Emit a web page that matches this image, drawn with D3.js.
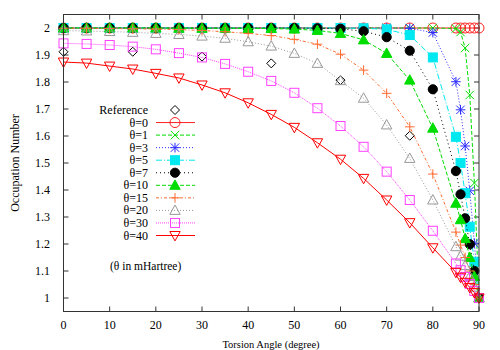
<!DOCTYPE html>
<html>
<head>
<meta charset="utf-8">
<script src="https://cdn.jsdelivr.net/npm/d3@7"></script>
<style>
  body { margin: 0; background: #fff; }
  svg { display: block; font-family: "Liberation Serif", "DejaVu Serif", serif; }
</style>
</head>
<body>
<svg id="chart" width="500" height="350"></svg>
<script>
// torsion angles (degree)
var angles = [0, 5, 10, 15, 20, 25, 30, 35, 40, 45, 50, 55, 60, 65, 70, 75, 80, 85, 86, 87, 88, 89, 90];
var refAngles = [0, 15, 30, 45, 60, 75, 90];
var refValues = [1.912, 1.912, 1.894, 1.869, 1.807, 1.601, 1.0];

var theta0  = [2, 2, 2, 2, 2, 2, 2, 2, 2, 2, 2, 2, 2, 2, 2, 2, 2, 2, 2, 2, 2, 2, 2];
var theta1  = [2, 2, 2, 2, 2, 2, 2, 2, 2, 2, 2, 2, 2, 2, 2, 2, 2, 1.998, 1.985, 1.926, 1.752, 1.426, 1.0];
var theta3  = [2, 2, 2, 2, 2, 2, 2, 2, 2, 2, 2, 2, 2, 2, 2, 1.999, 1.983, 1.801, 1.697, 1.563, 1.397, 1.203, 1.0];
var theta5  = [2, 2, 2, 2, 2, 2, 2, 2, 2, 2, 2, 2, 2, 1.999, 1.995, 1.974, 1.891, 1.597, 1.500, 1.388, 1.264, 1.134, 1.0];
var theta7  = [2, 2, 2, 2, 2, 2, 2, 2, 2, 2, 2, 1.999, 1.997, 1.988, 1.966, 1.916, 1.773, 1.470, 1.384, 1.295, 1.199, 1.100, 1.0];
var theta10 = [2, 2, 2, 2, 2, 1.999, 1.999, 1.999, 1.998, 1.998, 1.996, 1.991, 1.980, 1.956, 1.906, 1.807, 1.629, 1.351, 1.290, 1.220, 1.150, 1.080, 1.0];
var theta15 = [1.999, 1.999, 1.998, 1.997, 1.996, 1.994, 1.991, 1.986, 1.980, 1.972, 1.958, 1.940, 1.903, 1.844, 1.758, 1.634, 1.459, 1.244, 1.196, 1.150, 1.100, 1.050, 1.0];
var theta20 = [1.990, 1.989, 1.987, 1.984, 1.980, 1.976, 1.970, 1.962, 1.949, 1.933, 1.906, 1.869, 1.805, 1.740, 1.641, 1.517, 1.363, 1.190, 1.155, 1.120, 1.080, 1.040, 1.0];
var theta30 = [1.943, 1.941, 1.937, 1.931, 1.921, 1.907, 1.891, 1.867, 1.838, 1.804, 1.760, 1.703, 1.637, 1.560, 1.468, 1.363, 1.249, 1.128, 1.103, 1.078, 1.052, 1.026, 1.0];
var theta40 = [1.874, 1.870, 1.859, 1.848, 1.832, 1.815, 1.789, 1.760, 1.723, 1.680, 1.632, 1.575, 1.514, 1.443, 1.363, 1.279, 1.186, 1.095, 1.077, 1.058, 1.039, 1.020, 1.0];

var xTicks = [0, 10, 20, 30, 40, 50, 60, 70, 80, 90];
var yTicks = [1, 1.1, 1.2, 1.3, 1.4, 1.5, 1.6, 1.7, 1.8, 1.9, 2];

var series = [
    {name: "θ=0",  values: theta0,  color: "#ff2020", dash: null,        mark: "circle"},
    {name: "θ=1",  values: theta1,  color: "#00dd00", dash: "4,2",       mark: "cross"},
    {name: "θ=3",  values: theta3,  color: "#2a2aff", dash: "1,2",       mark: "star"},
    {name: "θ=5",  values: theta5,  color: "#00e8f0", dash: "6,2,1,2",   mark: "fsquare"},
    {name: "θ=7",  values: theta7,  color: "#000000", dash: "1,3",       mark: "fcircle"},
    {name: "θ=10", values: theta10, color: "#00dd00", dash: "4,2",       mark: "ftri"},
    {name: "θ=15", values: theta15, color: "#ff6a30", dash: "3,2,1,2",   mark: "plus"},
    {name: "θ=20", values: theta20, color: "#999999", dash: "1,2",       mark: "tri"},
    {name: "θ=30", values: theta30, color: "#ff40ff", dash: "1,1",       mark: "square"},
    {name: "θ=40", values: theta40, color: "#ff0000", dash: null,        mark: "dtri"}
];

var svg = d3.select("#chart"),
    padL = 63.5, padR = 479, padT = 14.5, padB = 311.5;

var x = d3.scaleLinear().domain([0, 90]).range([padL, padR]);
var y = d3.scaleLinear().domain([0.95, 2.05]).range([padB, padT]);

// Draw one point marker in gnuplot style.
function marker(g, type, cx, cy, color) {
    var p;
    if (type == "circle") {
        g.append("circle").attr("cx", cx).attr("cy", cy).attr("r", 5)
            .attr("fill", "none").attr("stroke", color);
    } else if (type == "fcircle") {
        g.append("circle").attr("cx", cx).attr("cy", cy).attr("r", 4.6)
            .attr("fill", color).attr("stroke", color);
    } else if (type == "square" || type == "fsquare") {
        g.append("rect").attr("x", cx - 4.5).attr("y", cy - 4.5).attr("width", 9).attr("height", 9)
            .attr("fill", type == "fsquare" ? color : "none").attr("stroke", color);
    } else if (type == "tri" || type == "ftri") {
        p = "M" + (cx - 5.2) + "," + (cy + 4) + "L" + (cx + 5.2) + "," + (cy + 4) + "L" + cx + "," + (cy - 5.4) + "Z";
        g.append("path").attr("d", p).attr("fill", type == "ftri" ? color : "none").attr("stroke", color);
    } else if (type == "dtri") {
        p = "M" + (cx - 5.2) + "," + (cy - 4) + "L" + (cx + 5.2) + "," + (cy - 4) + "L" + cx + "," + (cy + 5.4) + "Z";
        g.append("path").attr("d", p).attr("fill", "none").attr("stroke", color);
    } else if (type == "diamond") {
        p = "M" + cx + "," + (cy - 4.5) + "L" + (cx + 4.5) + "," + cy + "L" + cx + "," + (cy + 4.5) + "L" + (cx - 4.5) + "," + cy + "Z";
        g.append("path").attr("d", p).attr("fill", "none").attr("stroke", color);
    } else {
        p = "";
        if (type == "plus" || type == "star")
            p += "M" + (cx - 4.8) + "," + cy + "H" + (cx + 4.8) + "M" + cx + "," + (cy - 4.8) + "V" + (cy + 4.8);
        if (type == "cross" || type == "star")
            p += "M" + (cx - 4.2) + "," + (cy - 4.2) + "L" + (cx + 4.2) + "," + (cy + 4.2) +
                 "M" + (cx - 4.2) + "," + (cy + 4.2) + "L" + (cx + 4.2) + "," + (cy - 4.2);
        g.append("path").attr("d", p).attr("fill", "none").attr("stroke", color);
    }
}

// frame ticks (inward, mirrored)
var frame = svg.append("g").attr("stroke", "#333").attr("stroke-width", 1);
xTicks.forEach(function(t) {
    frame.append("line").attr("x1", x(t)).attr("x2", x(t)).attr("y1", padB).attr("y2", padB - 5);
    frame.append("line").attr("x1", x(t)).attr("x2", x(t)).attr("y1", padT).attr("y2", padT + 5);
});
yTicks.forEach(function(t) {
    frame.append("line").attr("x1", padL).attr("x2", padL + 5).attr("y1", y(t)).attr("y2", y(t));
    frame.append("line").attr("x1", padR).attr("x2", padR - 5).attr("y1", y(t)).attr("y2", y(t));
});

// tick labels
svg.append("g").selectAll("text").data(xTicks).join("text")
    .attr("x", function(d) { return x(d); }).attr("y", 329)
    .attr("text-anchor", "middle").attr("font-size", 12).text(function(d) { return d; });
svg.append("g").selectAll("text").data(yTicks).join("text")
    .attr("x", 50).attr("y", function(d) { return y(d) + 4; })
    .attr("text-anchor", "end").attr("font-size", 12).text(function(d) { return d3.format("~g")(d); });

svg.append("text").attr("x", 271).attr("y", 348).attr("text-anchor", "middle")
    .attr("font-size", 10.5).text("Torsion Angle (degree)");
svg.append("text").attr("transform", "translate(19,163) rotate(-90)").attr("text-anchor", "middle")
    .attr("font-size", 12).text("Occupation Number");
svg.append("text").attr("x", 110).attr("y", 270).attr("font-size", 11.5).text("(θ in mHartree)");

var plot = svg.append("g");
var line = d3.line().x(function(d) { return x(d[0]); }).y(function(d) { return y(d[1]); });

// reference points (no line)
var refG = plot.append("g");
refAngles.forEach(function(a, i) { marker(refG, "diamond", x(a), y(refValues[i]), "#000"); });

series.forEach(function(s) {
    var pts = angles.map(function(a, i) { return [a, s.values[i]]; });
    var g = plot.append("g");
    g.append("path").attr("d", line(pts)).attr("fill", "none")
        .attr("stroke", s.color).attr("stroke-width", 1)
        .attr("stroke-dasharray", s.dash);
    pts.forEach(function(p) { marker(g, s.mark, x(p[0]), y(p[1]), s.color); });
});

// legend
var leg = svg.append("g");
var legRows = [{name: "Reference", mark: "diamond", color: "#000", dash: null, noline: true}].concat(series);
legRows.forEach(function(r, i) {
    var ly = 110 + i * 12.55;
    leg.append("text").attr("x", 148).attr("y", ly + 4).attr("text-anchor", "end")
        .attr("font-size", 12).text(r.name);
    if (!r.noline)
        leg.append("line").attr("x1", 156).attr("x2", 195).attr("y1", ly).attr("y2", ly)
            .attr("stroke", r.color).attr("stroke-dasharray", r.dash);
    marker(leg, r.mark, 175, ly, r.color);
});

// border
svg.append("rect").attr("x", padL).attr("y", padT).attr("width", padR - padL).attr("height", padB - padT)
    .attr("fill", "none").attr("stroke", "#333").attr("stroke-width", 1);
</script>
</body>
</html>
